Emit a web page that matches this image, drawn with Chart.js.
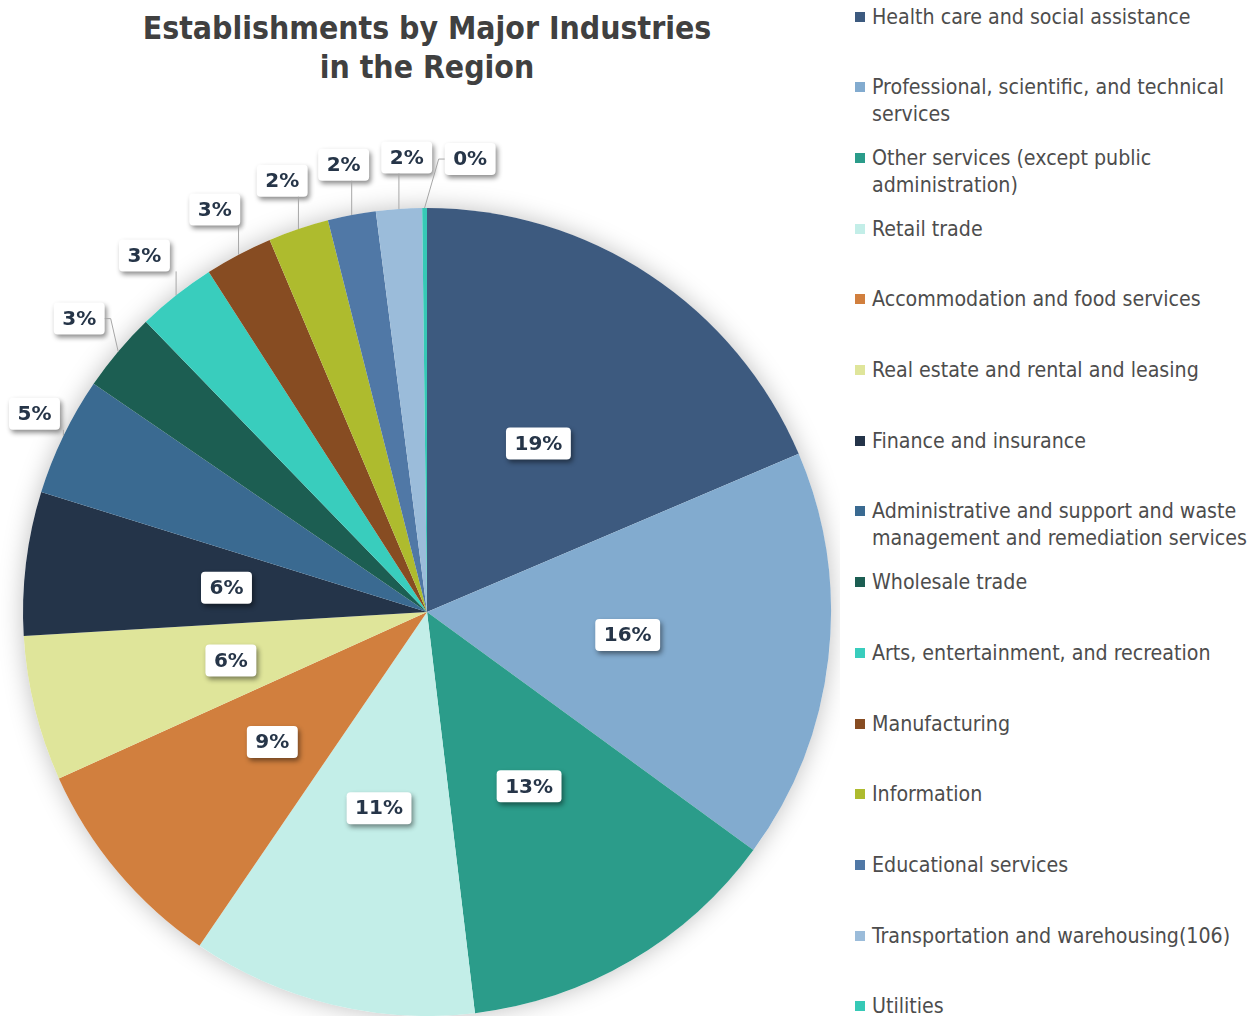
<!DOCTYPE html>
<html>
<head>
<meta charset="utf-8">
<title>Establishments by Major Industries in the Region</title>
<script src="https://cdn.jsdelivr.net/npm/chart.js@4.4.0/dist/chart.umd.min.js"></script>
<style>
  body { margin: 0; background: #fff; width: 1255px; height: 1016px; overflow: hidden; position: relative; }
  #title {
    position: absolute; left: 0; top: 9px; width: 854px; text-align: center;
    font-family: "DejaVu Sans Condensed", "DejaVu Sans", sans-serif; font-stretch: condensed;
    font-weight: bold; font-size: 31.7px; line-height: 39px; color: #404040;
  }
  #chartBox { position: absolute; left: 0; top: 0; width: 840px; height: 1016px; }
  #legend { position: absolute; left: 855px; top: 0; width: 400px; height: 1016px; }
  .item {
    position: absolute; left: 0; width: 397px;
    font-family: "DejaVu Sans Condensed", "DejaVu Sans", sans-serif; font-stretch: condensed;
    font-size: 21.2px; line-height: 27px; color: #4d4d4d;
  }
  .item .sw { position: absolute; left: 0; top: 9px; width: 10px; height: 10px; }
  .item .tx { margin-left: 17px; }
</style>
</head>
<body>
<div id="title">Establishments by Major Industries<br>in the Region</div>
<div id="chartBox"><canvas id="pie" width="840" height="1016"></canvas></div>
<div id="legend"></div>

<script>
const industries = [
  "Health care and social assistance",
  "Professional, scientific, and technical services",
  "Other services (except public administration)",
  "Retail trade",
  "Accommodation and food services",
  "Real estate and rental and leasing",
  "Finance and insurance",
  "Administrative and support and waste management and remediation services",
  "Wholesale trade",
  "Arts, entertainment, and recreation",
  "Manufacturing",
  "Information",
  "Educational services",
  "Transportation and warehousing(106)",
  "Utilities"
];

// establishment counts
const establishments = [1075, 950, 756, 660, 504, 336, 332, 275, 185, 183, 157, 140, 111, 106, 11];

const sliceColors = [
  "#3d5a7f", "#82abcf", "#2b9c8a", "#c3eee8", "#d17f3e",
  "#dfe59a", "#243449", "#3a6a91", "#1c5e52", "#39cdbd",
  "#874c22", "#aebb2e", "#5078a6", "#9bbcda", "#36c9b6"
];

// legend on the right
const legendEl = document.getElementById('legend');
industries.forEach((name, i) => {
  const div = document.createElement('div');
  div.className = 'item';
  div.style.top = (2.5 + i * 70.7) + 'px';
  div.innerHTML = '<span class="sw" style="background:' + sliceColors[i] + '"></span><div class="tx"></div>';
  div.querySelector('.tx').textContent = name;
  legendEl.appendChild(div);
});

const total = establishments.reduce((a, b) => a + b, 0);

// soft glow behind the pie
const pieShadow = {
  id: 'pieShadow',
  beforeDatasetsDraw(chart) {
    const arc = chart.getDatasetMeta(0).data[0];
    if (!arc) return;
    const { x, y, outerRadius } = arc.getProps(['x', 'y', 'outerRadius'], true);
    const ctx = chart.ctx;
    ctx.save();
    ctx.shadowColor = 'rgba(0,0,0,0.25)';
    ctx.shadowBlur = 24;
    ctx.fillStyle = '#fff';
    ctx.beginPath();
    ctx.arc(x, y, outerRadius, 0, Math.PI * 2);
    ctx.fill();
    ctx.restore();
  }
};

function drawBox(ctx, cx, cy, text) {
  ctx.font = 'bold 20px "DejaVu Sans", sans-serif';
  const w = ctx.measureText(text).width + 17;
  const h = 32;
  ctx.save();
  ctx.shadowColor = 'rgba(0,0,0,0.45)';
  ctx.shadowBlur = 5;
  ctx.shadowOffsetX = 2;
  ctx.shadowOffsetY = 3;
  ctx.fillStyle = '#fff';
  ctx.beginPath();
  ctx.roundRect(cx - w / 2, cy - h / 2, w, h, 4);
  ctx.fill();
  ctx.restore();
  ctx.fillStyle = '#263548';
  ctx.textAlign = 'center';
  ctx.textBaseline = 'middle';
  ctx.fillText(text, cx, cy + 1);
  return { l: cx - w / 2, r: cx + w / 2, t: cy - h / 2, b: cy + h / 2 };
}

// percentage labels, inside for big slices, outside with leader lines for small ones
const pctLabels = {
  id: 'pctLabels',
  afterDatasetsDraw(chart) {
    const ctx = chart.ctx;
    const arcs = chart.getDatasetMeta(0).data;
    let prevOuter = -Infinity;
    const minGap = 8 * Math.PI / 180;
    arcs.forEach((arc, i) => {
      const p = arc.getProps(['x', 'y', 'startAngle', 'endAngle', 'outerRadius'], true);
      const mid = (p.startAngle + p.endAngle) / 2;
      const span = p.endAngle - p.startAngle;
      const text = Math.round(establishments[i] / total * 100) + '%';
      if (span > 19 * Math.PI / 180) {
        const r = p.outerRadius * 0.5;
        drawBox(ctx, p.x + r * Math.cos(mid), p.y + r * Math.sin(mid), text);
        return;
      }
      const a = Math.max(mid, prevOuter + minGap);
      prevOuter = a;
      const r = p.outerRadius + 51;
      let cx = p.x + r * Math.cos(a);
      const cy = p.y + r * Math.sin(a);
      // keep the box inside the chart area
      ctx.font = 'bold 20px "DejaVu Sans", sans-serif';
      const halfW = (ctx.measureText(text).width + 17) / 2;
      cx = Math.max(cx, 9 + halfW);
      const ex = p.x + p.outerRadius * Math.cos(mid), ey = p.y + p.outerRadius * Math.sin(mid);
      const box = drawBox(ctx, cx, cy, text);
      ctx.save();
      ctx.strokeStyle = '#a6a6a6';
      ctx.lineWidth = 1;
      ctx.beginPath();
      ctx.moveTo(ex, ey);
      if (ex < box.l - 8) {
        ctx.lineTo(box.l - 6, cy);
        ctx.lineTo(box.l, cy);
      } else if (ex > box.r + 8) {
        ctx.lineTo(box.r + 6, cy);
        ctx.lineTo(box.r, cy);
      } else {
        ctx.lineTo(ex, box.b);
      }
      ctx.stroke();
      ctx.restore();
    });
  }
};

new Chart(document.getElementById('pie'), {
  type: 'pie',
  data: {
    labels: industries,
    datasets: [{
      data: establishments,
      backgroundColor: sliceColors,
      borderWidth: 0
    }]
  },
  options: {
    responsive: false,
    animation: false,
    layout: { padding: { left: 23, right: 9, top: 208, bottom: 0 } },
    plugins: {
      legend: { display: false },
      tooltip: { enabled: false }
    }
  },
  plugins: [pieShadow, pctLabels]
});
</script>
</body>
</html>
